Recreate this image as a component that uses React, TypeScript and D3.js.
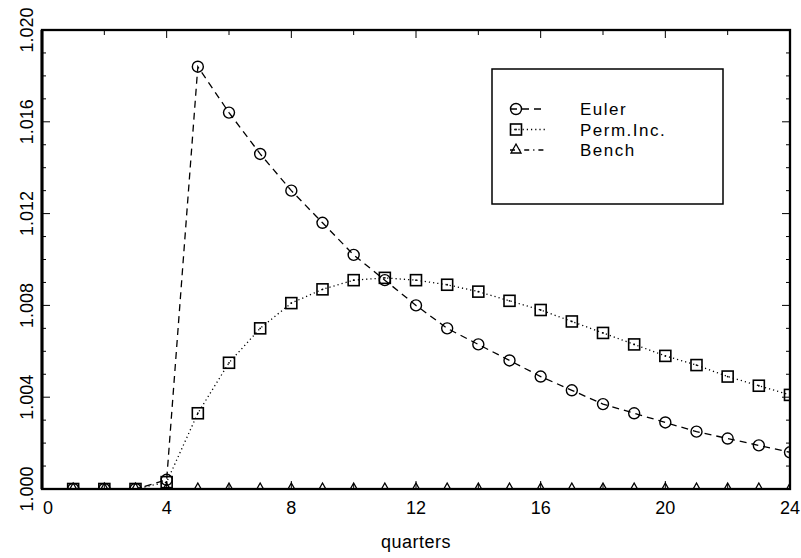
import React from "react";
import * as d3 from "d3";

// --- data ---
const QUARTERS = [1, 2, 3, 4, 5, 6, 7, 8, 9, 10, 11, 12, 13, 14, 15, 16, 17, 18, 19, 20, 21, 22, 23, 24];
const EULER = [
  1.0, 1.0, 1.0, 1.0004, 1.0184, 1.0164, 1.0146, 1.013, 1.0116, 1.0102, 1.0091, 1.008,
  1.007, 1.0063, 1.0056, 1.0049, 1.0043, 1.0037, 1.0033, 1.0029, 1.0025, 1.0022, 1.0019, 1.0016,
];
const PERM_INC = [
  1.0, 1.0, 1.0, 1.0003, 1.0033, 1.0055, 1.007, 1.0081, 1.0087, 1.0091, 1.0092, 1.0091,
  1.0089, 1.0086, 1.0082, 1.0078, 1.0073, 1.0068, 1.0063, 1.0058, 1.0054, 1.0049, 1.0045, 1.0041,
];
const BENCH = [
  1.0, 1.0, 1.0, 1.0, 1.0, 1.0, 1.0, 1.0, 1.0, 1.0, 1.0, 1.0,
  1.0, 1.0, 1.0, 1.0, 1.0, 1.0, 1.0, 1.0, 1.0, 1.0, 1.0, 1.0,
];
const X_TICKS = [0, 4, 8, 12, 16, 20, 24];
const Y_TICKS = [1.0, 1.004, 1.008, 1.012, 1.016, 1.02];
const LEGEND = ["Euler", "Perm.Inc.", "Bench"];

const W = 801;
const H = 558;
const LEFT = 42;
const RIGHT = 790;
const TOP = 30;
const BOTTOM = 489;
const FONT = "'Liberation Sans', Arial, sans-serif";

type Marker = "circle" | "square" | "triangle";

function MarkerShape({ kind, x, y }: { kind: Marker; x: number; y: number }) {
  if (kind === "circle")
    return <circle cx={x} cy={y} r={5.5} fill="none" stroke="#000" strokeWidth={1.4} />;
  if (kind === "square")
    return (
      <g>
        <rect x={x - 5.5} y={y - 5.5} width={11} height={11} fill="none" stroke="#000" strokeWidth={1.6} />
        <circle cx={x} cy={y} r={0.9} fill="#000" />
      </g>
    );
  return (
    <path
      d={`M${x},${y - 6}L${x + 5},${y + 3}L${x - 5},${y + 3}Z`}
      fill="none"
      stroke="#000"
      strokeWidth={1.3}
    />
  );
}

export default function App() {
  const x = d3.scaleLinear().domain([0, 24]).range([LEFT, RIGHT]);
  const y = d3.scaleLinear().domain([1.0, 1.02]).range([BOTTOM, TOP]);

  const line = d3
    .line<number>()
    .x((_, i) => x(QUARTERS[i]))
    .y((d) => y(d));

  const series: { data: number[]; marker: Marker; dash: string }[] = [
    { data: EULER, marker: "circle", dash: "7,5" },
    { data: PERM_INC, marker: "square", dash: "1.2,3" },
    { data: BENCH, marker: "triangle", dash: "5,4,1.2,4" },
  ];

  const yMinor = d3.range(0, 21).map((k) => 1.0 + k * 0.001);
  const xMinor = d3.range(0, 25, 2);

  return (
    <svg
      width={W}
      height={H}
      style={{ position: "absolute", left: 0, top: 0, background: "#fff" }}
      fontFamily={FONT}
    >
      <defs>
        <clipPath id="plot">
          <rect x={LEFT} y={TOP} width={RIGHT - LEFT} height={BOTTOM - TOP} />
        </clipPath>
      </defs>

      {/* series */}
      <g clipPath="url(#plot)">
        {series.map((s, si) => (
          <g key={si}>
            <path d={line(s.data) || ""} fill="none" stroke="#000" strokeWidth={1.3} strokeDasharray={s.dash} />
            {s.data.map((v, i) => (
              <MarkerShape key={i} kind={s.marker} x={x(QUARTERS[i])} y={y(v)} />
            ))}
          </g>
        ))}
      </g>

      {/* ticks, inward on all sides */}
      {yMinor.map((v, i) => {
        const major = Y_TICKS.some((t) => Math.abs(t - v) < 1e-9);
        const len = major ? 8 : 4;
        return (
          <g key={"y" + i} stroke="#000" strokeWidth={1}>
            <line x1={LEFT} x2={LEFT + len} y1={y(v)} y2={y(v)} />
            <line x1={RIGHT} x2={RIGHT - len} y1={y(v)} y2={y(v)} />
          </g>
        );
      })}
      {xMinor.map((q) => {
        const len = q % 4 === 0 ? 8 : 5;
        return (
          <g key={"x" + q} stroke="#000" strokeWidth={1}>
            <line x1={x(q)} x2={x(q)} y1={BOTTOM} y2={BOTTOM - len} />
            <line x1={x(q)} x2={x(q)} y1={TOP} y2={TOP + len} />
          </g>
        );
      })}

      {/* frame, left side a bit heavier */}
      <rect x={LEFT} y={TOP} width={RIGHT - LEFT} height={BOTTOM - TOP} fill="none" stroke="#000" strokeWidth={2.3} />
      <line x1={LEFT} x2={LEFT} y1={TOP} y2={BOTTOM} stroke="#000" strokeWidth={3} />

      {/* tick labels */}
      {X_TICKS.map((t, i) => (
        <text
          key={t}
          x={x(t) + (i === 0 ? 1 : 0)}
          y={514}
          fontSize={18}
          textAnchor={i === 0 ? "start" : "middle"}
          fill="#000"
        >
          {t}
        </text>
      ))}
      {Y_TICKS.map((t) => (
        <text
          key={t}
          transform={`translate(33,${y(t)}) rotate(-90)`}
          fontSize={18}
          textAnchor="middle"
          fill="#000"
        >
          {d3.format(".3f")(t)}
        </text>
      ))}
      <text x={(LEFT + RIGHT) / 2} y={548} fontSize={18} textAnchor="middle" fill="#000" letterSpacing={0.5}>
        quarters
      </text>

      {/* legend */}
      <g>
        <rect x={492} y={69} width={231} height={135} fill="#fff" stroke="#000" strokeWidth={1.5} />
        {series.map((s, i) => {
          const ly = 109 + i * 20.5;
          return (
            <g key={i}>
              <line x1={510} x2={545} y1={ly} y2={ly} stroke="#000" strokeWidth={1.3} strokeDasharray={s.dash} />
              <MarkerShape kind={s.marker} x={516} y={ly} />
              <text x={580} y={ly + 6} fontSize={17} letterSpacing={1.5} fill="#000">
                {LEGEND[i]}
              </text>
            </g>
          );
        })}
      </g>
    </svg>
  );
}
